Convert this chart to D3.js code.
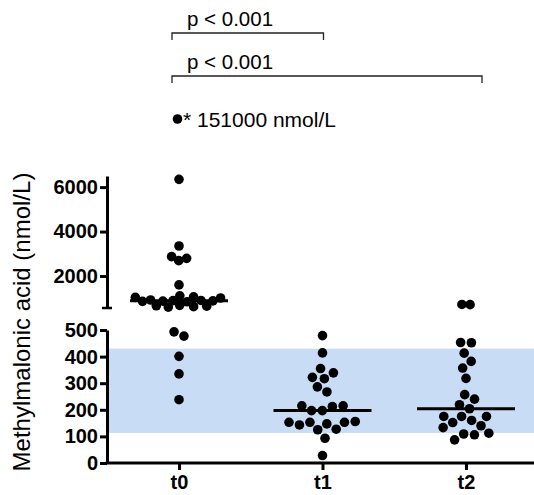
<!DOCTYPE html>
<html>
<head>
<meta charset="utf-8">
<script src="https://cdn.jsdelivr.net/npm/d3@7"></script>
<style>
  body { margin: 0; background: #fff; }
  svg { font-family: "Liberation Sans", Arial, sans-serif; }
</style>
</head>
<body>
<div id="chart"></div>
<script>
// Data (nmol/L)
const groups = ['t0', 't1', 't2'];
const t0Values = [6350, 3350, 2870, 2795, 2690, 1600,
  1110, 1060, 1040, 1010, 920, 900, 890, 880, 870, 860, 840,
  680, 660, 640, 620, 600,
  493, 477, 401, 335, 238];
const t0Outlier = 151000;
const t1Values = [479, 414, 355, 339, 322, 317, 286, 267, 215, 215, 212, 197, 197,
  156, 153, 153, 153, 147, 143, 127, 125, 93, 28];
const t2Values = [720, 710, 453, 452, 413, 382, 357, 318, 257, 240, 219, 204,
  175, 175, 175, 160, 152, 140, 133, 112, 109, 106, 87];
const refRange = [113, 430];
const upperTicks = [2000, 4000, 6000];
const lowerTicks = [0, 100, 200, 300, 400, 500];
const comparisons = [
  { from: 't0', to: 't1', label: 'p < 0.001' },
  { from: 't0', to: 't2', label: 'p < 0.001' }
];
const outlierLabel = '* 151000 nmol/L';
const yTitle = 'Methylmalonic acid (nmol/L)';

const W = 534, H = 495;
const axisX = 107;
const r = 4.8;

const svg = d3.select('#chart').append('svg')
  .attr('width', W).attr('height', H);

// Scales: broken y axis (lower 0-500, upper 560-6500)
const yLow = d3.scaleLinear().domain([0, 500]).range([463, 330]);
const yUp = d3.scaleLinear().domain([560, 6500]).range([308, 176]);
const yPos = v => v <= 500 ? yLow(v) : yUp(v);
const x = d3.scalePoint().domain(groups).range([179, 466]);

// Reference band
svg.append('rect')
  .attr('x', axisX + 2).attr('width', W - axisX - 2)
  .attr('y', yLow(refRange[1]))
  .attr('height', yLow(refRange[0]) - yLow(refRange[1]))
  .attr('fill', '#c8dcf6');

// Y axes
const axisStyle = g => {
  g.selectAll('path.domain').attr('stroke-width', 3);
  g.selectAll('.tick line').attr('stroke-width', 3);
  g.selectAll('.tick text')
    .attr('font-size', 20).attr('font-weight', 'bold')
    .attr('font-family', '"Liberation Sans", Arial, sans-serif')
    .attr('fill', '#000');
};

svg.append('g')
  .attr('transform', `translate(${axisX},0)`)
  .call(d3.axisLeft(yUp).tickValues(upperTicks).tickFormat(d3.format('d'))
    .tickSize(7).tickSizeOuter(0).tickPadding(2))
  .call(axisStyle);

svg.append('g')
  .attr('transform', `translate(${axisX},0)`)
  .call(d3.axisLeft(yLow).tickValues(lowerTicks).tickFormat(d3.format('d'))
    .tickSize(7).tickSizeOuter(0).tickPadding(2))
  .call(axisStyle);

// cap at the bottom of the upper segment
svg.append('line')
  .attr('x1', axisX - 5).attr('x2', axisX + 5)
  .attr('y1', yUp(560)).attr('y2', yUp(560))
  .attr('stroke', '#000').attr('stroke-width', 2.5);

// X axis
const xAxisG = svg.append('g')
  .attr('transform', `translate(0,${yLow(0)})`)
  .call(d3.axisBottom(x).tickSize(7).tickPadding(5))
  .call(axisStyle);
xAxisG.select('path.domain').remove();
xAxisG.append('line')
  .attr('x1', axisX - 1.5).attr('x2', W)
  .attr('stroke', '#000').attr('stroke-width', 3);

// Swarm layout: y fixed to the value, x pushed apart by collision.
// The upper segment is compressed, so dots there may overlap more.
function swarm(values, cx) {
  const pts = values.map((v, i) => ({ v, fy: yPos(v), y: yPos(v), x: cx + (i % 2 ? 0.5 : -0.5) * (i % 5) }));
  const sim = d3.forceSimulation(pts)
    .force('x', d3.forceX(cx).strength(0.08))
    .force('collide', d3.forceCollide(d => d.v > 500 ? 4.1 : r + 0.6).iterations(4))
    .stop();
  for (let i = 0; i < 300; i++) sim.tick();
  return pts;
}

const series = [
  { key: 't0', values: t0Values, all: t0Values.concat([t0Outlier]) },
  { key: 't1', values: t1Values, all: t1Values },
  { key: 't2', values: t2Values, all: t2Values }
];

series.forEach(s => {
  const pts = swarm(s.values, x(s.key));
  svg.append('g').selectAll('circle')
    .data(pts)
    .join('circle')
      .attr('cx', d => d.x)
      .attr('cy', d => d.fy)
      .attr('r', r)
      .attr('fill', '#000');

  const med = d3.median(s.all);
  svg.append('line')
    .attr('x1', x(s.key) - 49).attr('x2', x(s.key) + 49)
    .attr('y1', yPos(med)).attr('y2', yPos(med))
    .attr('stroke', '#000').attr('stroke-width', 3);
});

// Outlier annotation
const annY = 119;
svg.append('circle')
  .attr('cx', x('t0') - 1.5).attr('cy', annY).attr('r', r)
  .attr('fill', '#000');
svg.append('text')
  .attr('x', x('t0') + 4).attr('y', annY + 8)
  .attr('font-size', 21)
  .text(outlierLabel);

// Significance brackets
const brY = [33, 76];
comparisons.forEach((c, i) => {
  const x1 = x(c.from) - 7;
  const x2 = i === 0 ? x(c.to) + 1 : x(c.to) + 16;
  const y0 = brY[i];
  svg.append('path')
    .attr('d', `M${x1},${y0 + 7}V${y0}H${x2}V${y0 + 7}`)
    .attr('fill', 'none').attr('stroke', '#222').attr('stroke-width', 1.3);
  svg.append('text')
    .attr('x', x1 + 15).attr('y', y0 - 7)
    .attr('font-size', 20.5)
    .text(c.label);
});

// Y title
svg.append('text')
  .attr('transform', `translate(30,${322}) rotate(-90)`)
  .attr('text-anchor', 'middle')
  .attr('font-size', 24)
  .text(yTitle);
</script>
</body>
</html>
